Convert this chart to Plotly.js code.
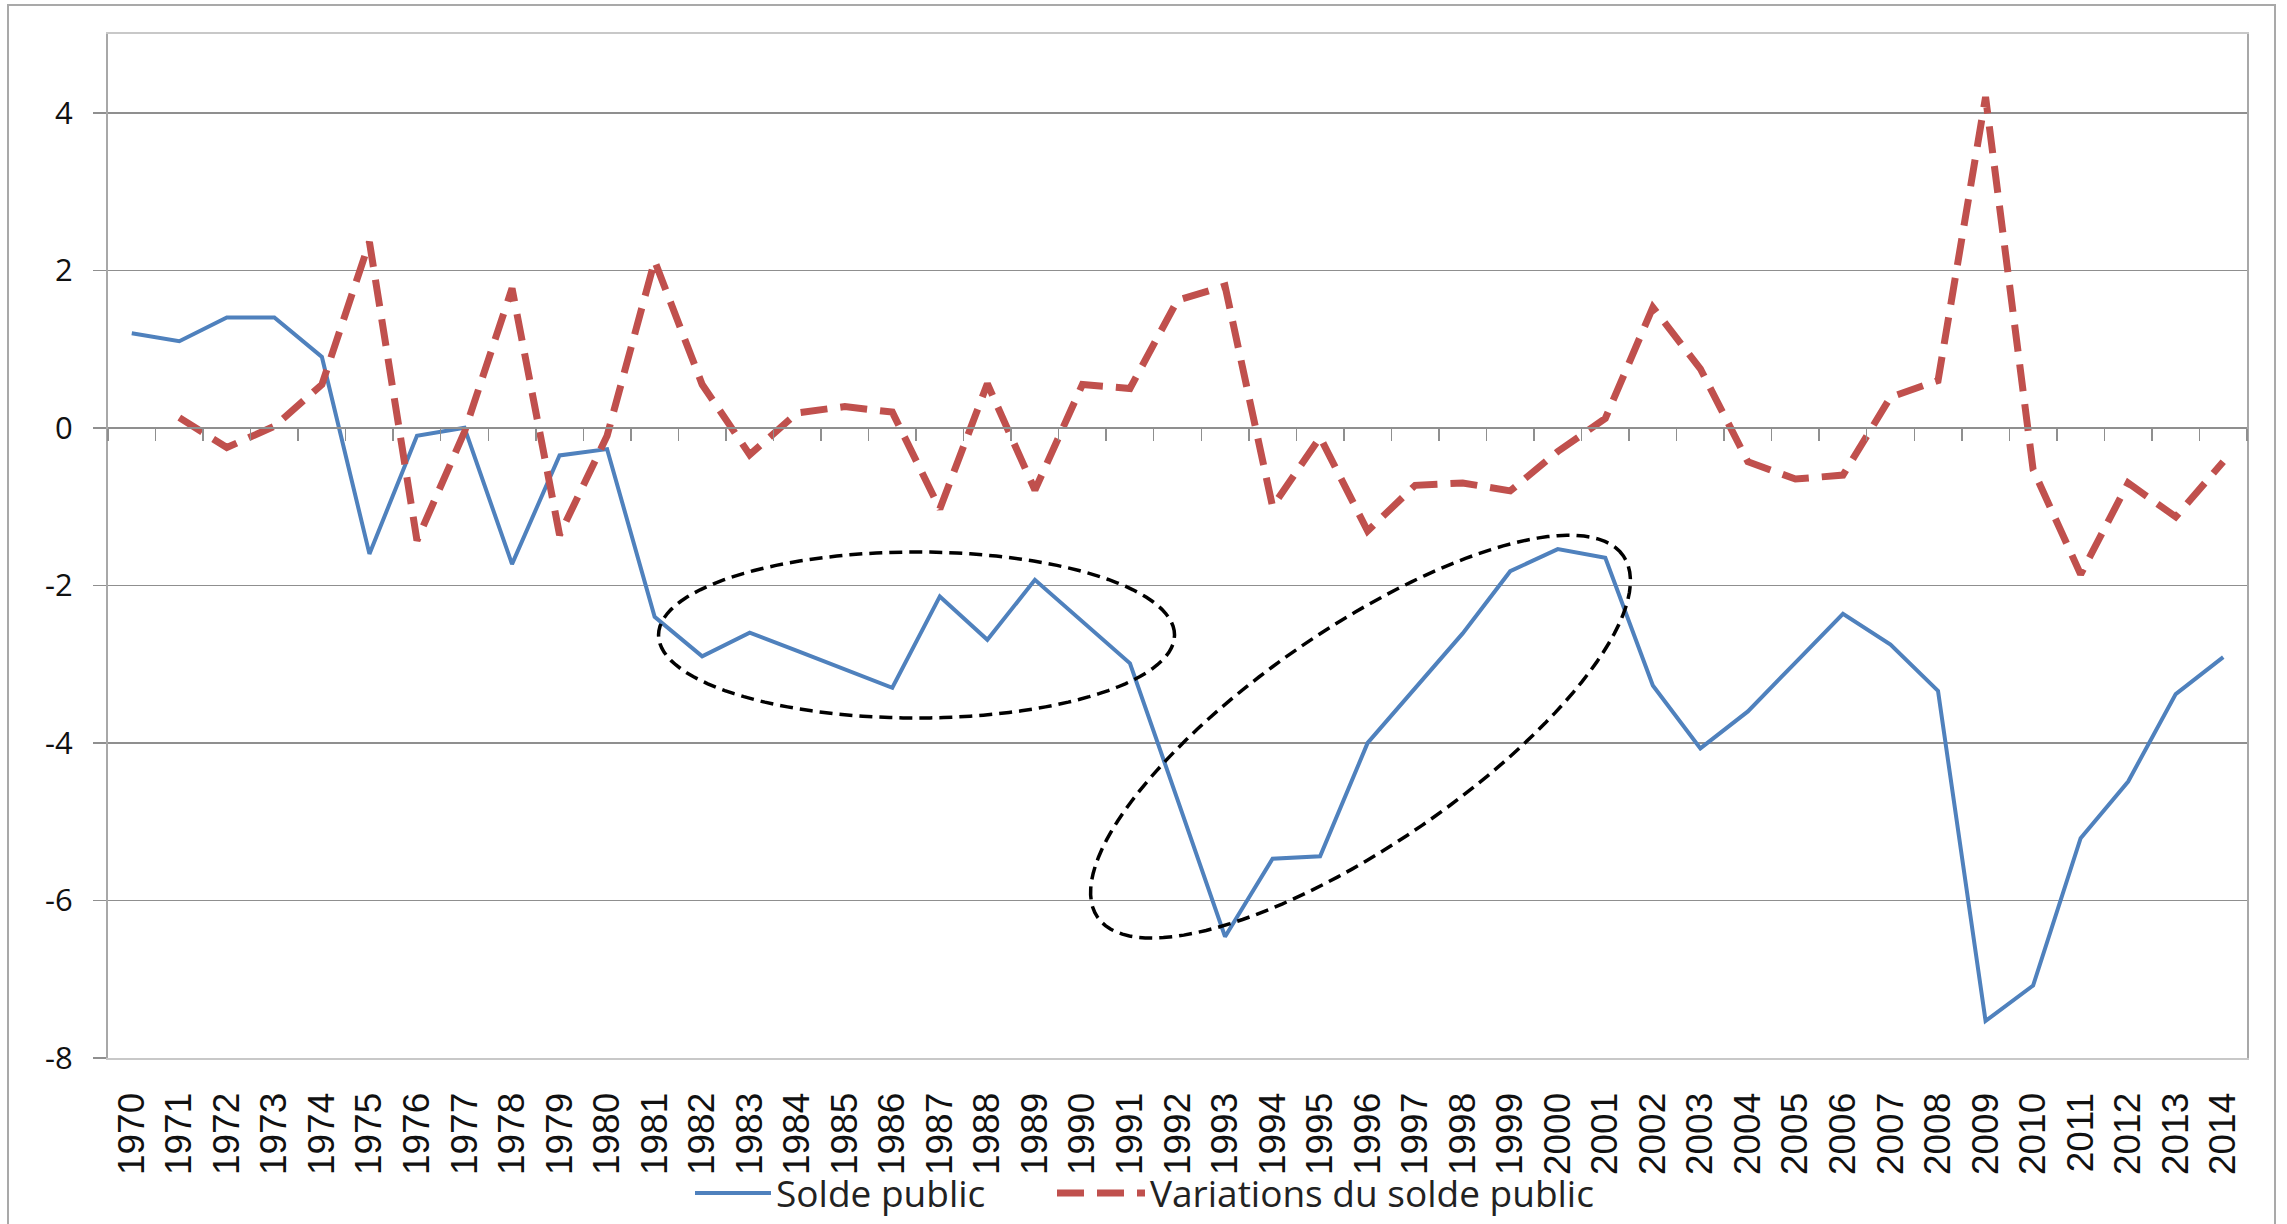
<!DOCTYPE html>
<html>
<head>
<meta charset="utf-8">
<script src="https://cdn.plot.ly/plotly-3.0.1.min.js"></script>
<style>
html,body{margin:0;padding:0;background:#fff;}
#chart{width:2287px;height:1224px;}
</style>
</head>
<body>
<div id="chart"></div>
<script>
// ---- data ----
var years = [1970,1971,1972,1973,1974,1975,1976,1977,1978,1979,
             1980,1981,1982,1983,1984,1985,1986,1987,1988,1989,
             1990,1991,1992,1993,1994,1995,1996,1997,1998,1999,
             2000,2001,2002,2003,2004,2005,2006,2007,2008,2009,
             2010,2011,2012,2013,2014];
var yearLabels = years.map(String);

var soldePublic = [1.2, 1.1, 1.4, 1.4, 0.9, -1.6, -0.1, 0.0, -1.73, -0.35,
                   -0.27, -2.4, -2.9, -2.6, -2.83, -3.07, -3.3, -2.14, -2.69, -1.93,
                   -2.46, -2.99, -4.72, -6.46, -5.47, -5.44, -4.0, -3.3, -2.61, -1.82,
                   -1.54, -1.65, -3.27, -4.07, -3.6, -2.98, -2.36, -2.75, -3.34, -7.53,
                   -7.08, -5.21, -4.49, -3.38, -2.91];

var variationsSolde = [null, 0.13, -0.25, 0.02, 0.55, 2.36, -1.43, -0.05, 1.77, -1.36,
                       -0.1, 2.12, 0.55, -0.34, 0.19, 0.27, 0.2, -1.03, 0.56, -0.79,
                       0.55, 0.5, 1.62, 1.8, -1.0, -0.12, -1.31, -0.73, -0.7, -0.8,
                       -0.3, 0.12, 1.53, 0.75, -0.43, -0.65, -0.6, 0.39, 0.6, 4.2,
                       -0.53, -1.86, -0.7, -1.13, -0.43];

var yTicks = [-8, -6, -4, -2, 0, 2, 4];
var yTickLabels = ['-8', '-6', '-4', '-2', '0', '2', '4'];
var seriesNames = ['Solde public', 'Variations du solde public'];

// annotation ellipses: centre (year, value), semi-axes in pixels, tilt in degrees
var ellipse1 = {cx: 1986.51, cy: -2.63, a: 258, b: 83, angle: 0};
var ellipse2 = {cx: 1995.85, cy: -3.92, a: 319, b: 108, angle: 34.5};

// ---- layout helpers ----
var W = 2287, H = 1224;
var mL = 108, mR = 40, mT = 34, mB = 166;
var plotW = W - mL - mR, plotH = H - mT - mB;
var xRange = [years[0] - 0.5, years[years.length - 1] + 0.5];
var yRange = [-8, 5];
var pxPerYear = plotW / (xRange[1] - xRange[0]);
var pxPerUnit = plotH / (yRange[1] - yRange[0]);

function ellipsePath(e) {
  var th = e.angle * Math.PI / 180, n = 120, d = '';
  for (var i = 0; i <= n; i++) {
    var t = 2 * Math.PI * i / n;
    var px = e.a * Math.cos(t) * Math.cos(th) - e.b * Math.sin(t) * Math.sin(th);
    var py = e.a * Math.cos(t) * Math.sin(th) + e.b * Math.sin(t) * Math.cos(th);
    var x = e.cx + px / pxPerYear, y = e.cy + py / pxPerUnit;
    d += (i === 0 ? 'M' : 'L') + x.toFixed(4) + ',' + y.toFixed(4);
  }
  return d + 'Z';
}

var boundaries = years.map(function (y) { return y - 0.5; });
boundaries.push(years[years.length - 1] + 0.5);

var legendFont = {family: 'Open Sans', size: 37, color: '#222'};
var legendY = -0.102;

var traces = [
  {
    x: years, y: soldePublic, name: seriesNames[0],
    type: 'scatter', mode: 'lines',
    line: {color: '#4F81BD', width: 4},
    xaxis: 'x', yaxis: 'y', legend: 'legend'
  },
  {
    x: years, y: variationsSolde, name: seriesNames[1],
    type: 'scatter', mode: 'lines',
    line: {color: '#C0504D', width: 7, dash: '27px,13px'},
    connectgaps: false,
    xaxis: 'x2', yaxis: 'y', legend: 'legend2'
  }
];

var gridCol = '#8f8f8f';
var layout = {
  width: W, height: H,
  margin: {l: mL, r: mR, t: mT, b: mB, pad: 0, autoexpand: false},
  paper_bgcolor: '#ffffff', plot_bgcolor: '#ffffff',
  showlegend: true,
  legend: {
    orientation: 'h', x: (700 - 10 - mL) / plotW, xanchor: 'left', y: legendY, yanchor: 'top',
    font: legendFont, itemwidth: 76, bgcolor: 'rgba(0,0,0,0)'
  },
  legend2: {
    orientation: 'h', x: (1062 - 10 - mL) / plotW, xanchor: 'left', y: legendY, yanchor: 'top',
    font: legendFont, itemwidth: 88, bgcolor: 'rgba(0,0,0,0)'
  },
  xaxis: {
    type: 'linear', range: xRange, fixedrange: true,
    tickmode: 'array', tickvals: years, ticktext: yearLabels,
    tickangle: -90, ticks: '', showgrid: false, zeroline: false,
    showline: true, mirror: true, linecolor: '#c8c8c8', linewidth: 2,
    ticklabelstandoff: 18,
    tickfont: {family: 'Liberation Sans, Arial, sans-serif', size: 37, color: '#111'}
  },
  xaxis2: {
    type: 'linear', range: xRange, overlaying: 'x', anchor: 'free',
    position: (0 - yRange[0]) / (yRange[1] - yRange[0]),
    tickmode: 'array', tickvals: boundaries, showticklabels: false,
    ticks: 'outside', ticklen: 12, tickwidth: 1.5, tickcolor: gridCol,
    showgrid: false, zeroline: false,
    showline: true, linecolor: gridCol, linewidth: 2
  },
  yaxis: {
    range: yRange, fixedrange: true,
    tickmode: 'array', tickvals: yTicks, ticktext: yTickLabels,
    ticks: 'outside', ticklen: 13, tickwidth: 1.5, tickcolor: gridCol,
    showgrid: true, gridcolor: gridCol, gridwidth: 1.5,
    zeroline: false,
    showline: true, mirror: true, linecolor: '#a8a8a8', linewidth: 2,
    ticklabelstandoff: 14,
    tickfont: {family: 'Open Sans', size: 31, color: '#111'}
  },
  shapes: [
    {type: 'path', xref: 'x', yref: 'y', path: ellipsePath(ellipse1),
     line: {color: '#000', width: 3.5, dash: '13px,7px'}, layer: 'above'},
    {type: 'path', xref: 'x', yref: 'y', path: ellipsePath(ellipse2),
     line: {color: '#000', width: 3.5, dash: '13px,7px'}, layer: 'above'},
    {type: 'rect', xref: 'paper', yref: 'paper',
     x0: (8 - mL) / plotW, x1: (2275 - mL) / plotW,
     y0: (H - mB - 1232) / plotH, y1: (H - mB - 5) / plotH,
     line: {color: '#a9a9a9', width: 2}, fillcolor: 'rgba(0,0,0,0)', layer: 'below'}
  ]
};

Plotly.newPlot('chart', traces, layout, {displayModeBar: false, staticPlot: true});
</script>
</body>
</html>
